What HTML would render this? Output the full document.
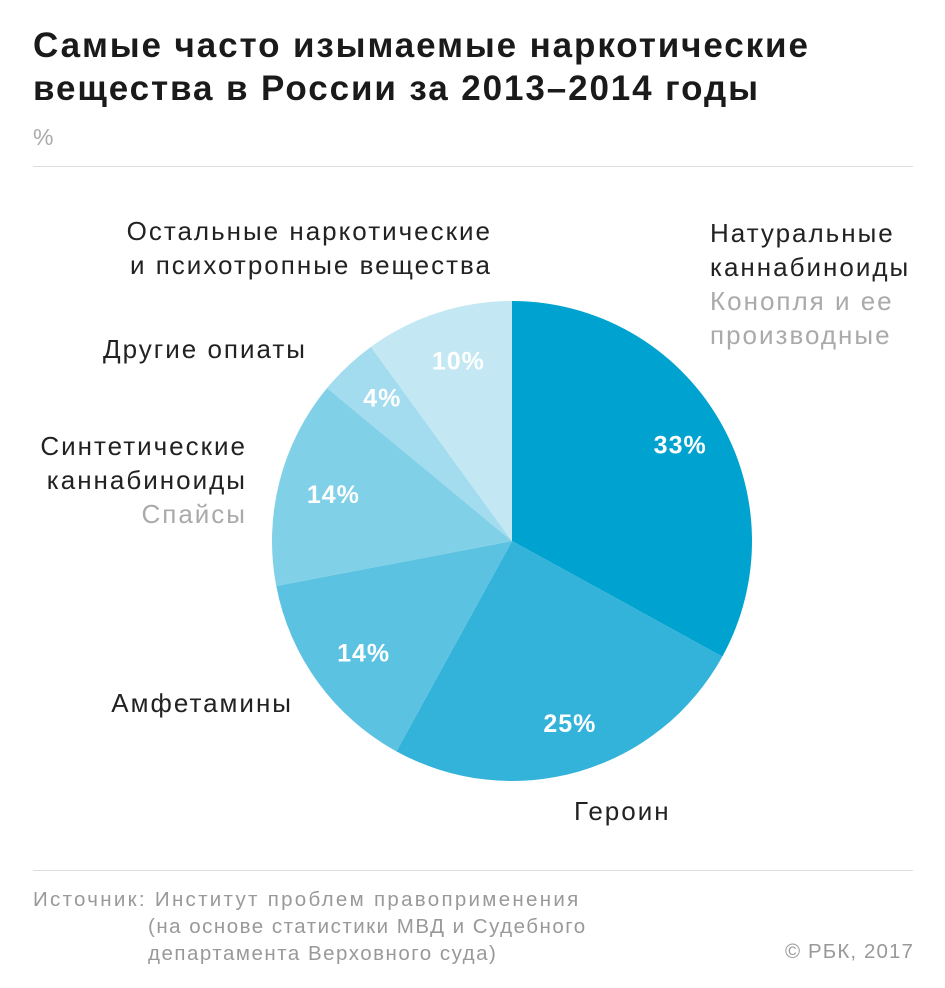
<!DOCTYPE html>
<html><head><meta charset="utf-8"><style>
body{margin:0;width:945px;height:988px;background:#fff;font-family:"Liberation Sans","DejaVu Sans",sans-serif;position:relative;overflow:hidden}
.t{position:absolute;color:#222;letter-spacing:2px}
</style></head><body>
<div class="t" style="left:33px;top:24px;font-size:35px;font-weight:bold;line-height:43px;color:#1a1a1a;letter-spacing:1.9px">Самые часто изымаемые наркотические<br>вещества в России за 2013–2014 годы</div>
<div class="t" style="left:33px;top:124px;font-size:23px;color:#aaa">%</div>
<div style="position:absolute;left:33px;top:166px;width:880px;height:1px;background:#ddd"></div>
<svg id="pie" width="945" height="988" style="position:absolute;left:0;top:0"></svg>
<div class="t" style="left:710px;top:216px;font-size:26px;line-height:34px">Натуральные<br>каннабиноиды<br><span style="color:#aaa">Конопля и ее<br>производные</span></div>
<div class="t" style="left:40px;top:214px;width:452px;text-align:right;font-size:26px;line-height:34px">Остальные наркотические<br>и психотропные вещества</div>
<div class="t" style="left:40px;top:334px;width:267px;text-align:right;font-size:26px">Другие опиаты</div>
<div class="t" style="left:0px;top:429px;width:247px;text-align:right;font-size:26px;line-height:34px">Синтетические<br>каннабиноиды<br><span style="color:#aaa">Спайсы</span></div>
<div class="t" style="left:40px;top:688px;width:253px;text-align:right;font-size:26px">Амфетамины</div>
<div class="t" style="left:574px;top:796px;font-size:26px">Героин</div>
<div style="position:absolute;left:33px;top:870px;width:880px;height:1px;background:#ddd"></div>
<div class="t" style="left:33px;top:886px;font-size:20.5px;line-height:27px;color:#999;letter-spacing:1.5px"><span style="letter-spacing:2.3px">Источник: Институт проблем правоприменения</span><br><span style="padding-left:115px">(на основе статистики МВД и Судебного</span><br><span style="padding-left:115px">департамента Верховного суда)</span></div>
<div class="t" style="left:700px;top:940px;width:214px;text-align:right;font-size:20.5px;color:#999;letter-spacing:1.1px">© РБК, 2017</div>
<script>
const categories=["Натуральные каннабиноиды","Героин","Амфетамины","Синтетические каннабиноиды","Другие опиаты","Остальные"];
const values=[33,25,14,14,4,10];
const labels=["33%","25%","14%","14%","4%","10%"];
const colors=["#00a3cf","#33b3d9","#5bc2e1","#80d0e7","#a3dcee","#c3e8f3"];
const svg=document.getElementById('pie');
const cx=512,cy=541,r=240,NS="http://www.w3.org/2000/svg";
const total=values.reduce((a,b)=>a+b,0);
function pt(a,rr){return [cx+rr*Math.sin(a),cy-rr*Math.cos(a)];}
let acc=0;
values.forEach((v,i)=>{
 const a0=acc/total*2*Math.PI;acc+=v;const a1=acc/total*2*Math.PI;
 const p0=pt(a0,r),p1=pt(a1,r);
 const p=document.createElementNS(NS,'path');
 p.setAttribute('d',`M${cx},${cy}L${p0[0]},${p0[1]}A${r},${r} 0 ${a1-a0>Math.PI?1:0} 1 ${p1[0]},${p1[1]}Z`);
 p.setAttribute('fill',colors[i]);
 
 
 svg.appendChild(p);
 const am=(a0+a1)/2;const rr=v<6?0.82*r:0.79*r;const lp=pt(am,rr);
 const t=document.createElementNS(NS,'text');
 t.setAttribute('x',lp[0]+5);t.setAttribute('y',lp[1]+9);
 t.setAttribute('text-anchor','middle');t.setAttribute('fill','#fff');
 t.setAttribute('font-size','25');t.setAttribute('font-weight','bold');
 t.setAttribute('letter-spacing','1');
 t.setAttribute('font-family','Liberation Sans, sans-serif');
 
 
 t.textContent=labels[i];svg.appendChild(t);
});
</script>
</body></html>
